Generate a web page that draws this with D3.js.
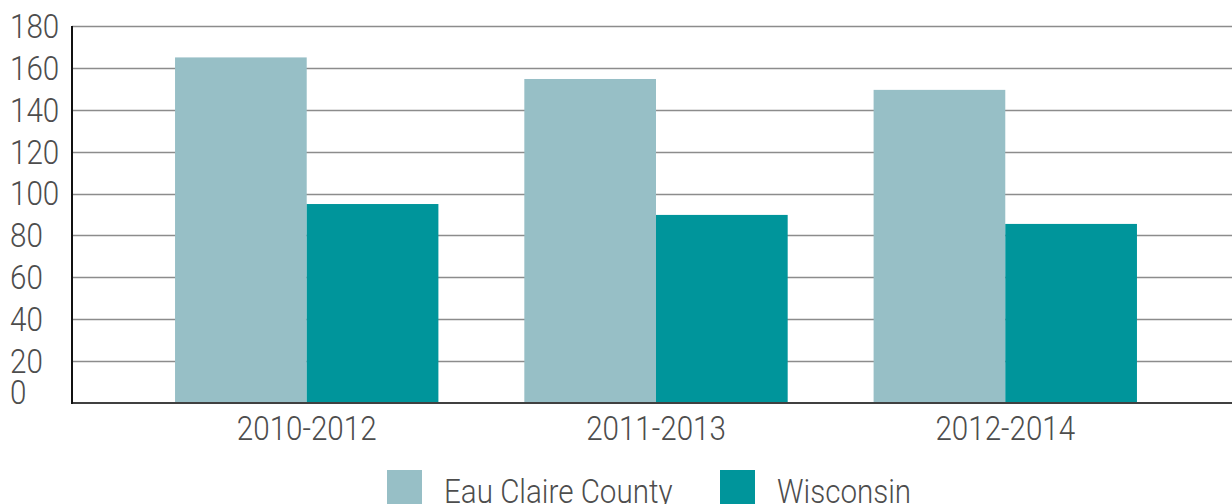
<!DOCTYPE html>
<html>
<head>
<meta charset="utf-8">
<script src="https://cdn.jsdelivr.net/npm/d3@7"></script>
<style>
  html, body { margin: 0; padding: 0; background: #fff; }
  svg { display: block; }
  text { font-family: Roboto, "Open Sans", sans-serif; font-weight: 300; fill: #4d4d4d; }
</style>
</head>
<body>
<svg width="1232" height="504"></svg>
<script>
// data
var periods = ["2010-2012", "2011-2013", "2012-2014"];
var seriesNames = ["Eau Claire County", "Wisconsin"];
var eauClaire = [165, 154.7, 149.5];
var wisconsin = [95, 89.8, 85.5];
var yTicks = [0, 20, 40, 60, 80, 100, 120, 140, 160, 180];

var colors = ["#97bfc6", "#00959b"];

var svg = d3.select("svg"),
  width = +svg.attr("width"),
  height = +svg.attr("height");

// plot area (window.top is read-only, so no "top" here)
var plotLeft = 72, plotTop = 26, plotBottom = 403, plotRight = 1240;
var squeeze = 0.87; // narrow the glyphs a bit, the original font is condensed

// scales
var y = d3.scaleLinear().domain([0, 180]).range([plotBottom, plotTop]);
var x0 = d3.scaleBand().domain(periods).range([plotLeft, plotRight])
  .paddingInner(0.246).paddingOuter(0.295);
var x1 = d3.scaleBand().domain(seriesNames).range([0, x0.bandwidth()]);

// gridlines
svg.append("g")
  .selectAll("line")
  .data(yTicks.filter(function(d) { return d > 0; }))
  .enter()
  .append("line")
    .attr("x1", plotLeft)
    .attr("x2", width)
    .attr("y1", function(d) { return Math.round(y(d)) + 0.5; })
    .attr("y2", function(d) { return Math.round(y(d)) + 0.5; })
    .attr("stroke", "#8c8c8c")
    .attr("stroke-width", 1.3);

// y tick labels (left aligned at the edge)
svg.append("g")
  .selectAll("text")
  .data(yTicks)
  .enter()
  .append("text")
    .attr("transform", function(d) {
      var yy = d === 0 ? y(d) - 11 : y(d);
      return "translate(10," + yy + ") scale(" + squeeze + ",1)";
    })
    .attr("dy", "0.35em")
    .style("font-size", "34px")
    .text(function(d) { return d; });

// bars
var rows = periods.map(function(p, i) {
  return { period: p, values: [eauClaire[i], wisconsin[i]] };
});

svg.append("g")
  .selectAll("g")
  .data(rows)
  .enter()
  .append("g")
    .attr("transform", function(d) { return "translate(" + x0(d.period) + ",0)"; })
  .selectAll("rect")
  .data(function(d) { return d.values.map(function(v, j) { return { name: seriesNames[j], value: v, idx: j }; }); })
  .enter()
  .append("rect")
    .attr("x", function(d) { return x1(d.name); })
    .attr("width", x1.bandwidth())
    .attr("y", function(d) { return y(d.value); })
    .attr("height", function(d) { return y(0) - y(d.value); })
    .attr("fill", function(d) { return colors[d.idx]; });

// axis lines
svg.append("line")
  .attr("x1", plotLeft).attr("x2", width)
  .attr("y1", plotBottom).attr("y2", plotBottom)
  .attr("stroke", "#404040").attr("stroke-width", 2);
svg.append("line")
  .attr("x1", plotLeft).attr("x2", plotLeft)
  .attr("y1", plotTop).attr("y2", plotBottom + 1)
  .attr("stroke", "#111").attr("stroke-width", 2);

// category labels
svg.append("g")
  .selectAll("text")
  .data(periods)
  .enter()
  .append("text")
    .attr("transform", function(d) {
      return "translate(" + (x0(d) + x0.bandwidth() / 2) + ",428) scale(" + squeeze + ",1)";
    })
    .attr("text-anchor", "middle")
    .attr("dy", "0.35em")
    .style("font-size", "34px")
    .text(function(d) { return d; });

// legend
var legendX = [387, 720];
var legend = svg.append("g")
  .selectAll("g")
  .data(seriesNames)
  .enter()
  .append("g")
    .attr("transform", function(d, i) { return "translate(" + legendX[i] + ",470)"; });

legend.append("rect")
  .attr("width", 35)
  .attr("height", 35)
  .attr("fill", function(d, i) { return colors[i]; });

legend.append("text")
  .attr("transform", "translate(57,33) scale(" + squeeze + ",1)")
  .style("font-size", "34px")
  .text(function(d) { return d; });
</script>
</body>
</html>
